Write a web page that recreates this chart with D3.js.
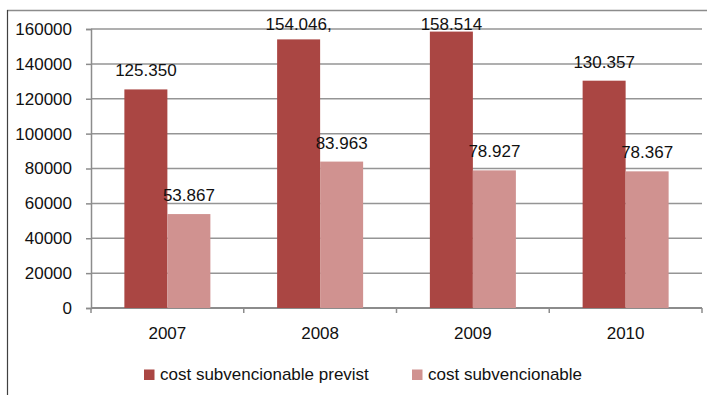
<!DOCTYPE html>
<html>
<head>
<meta charset="utf-8">
<script src="https://cdn.jsdelivr.net/npm/d3@7"></script>
<style>
  html, body { margin: 0; padding: 0; background: #fff; }
  svg { display: block; font-family: "Liberation Sans", Arial, sans-serif; }
</style>
</head>
<body>
<svg id="chart" width="707" height="395"></svg>
<script>
// Years on the category axis
const categories = ["2007", "2008", "2009", "2010"];
// Series values
const seriesNames = ["cost subvencionable previst", "cost subvencionable"];
const previst = [125350, 154046, 158514, 130357];
const subvencionable = [53867, 83963, 78927, 78367];
// Data labels as printed above each bar
const previstLabels = ["125.350", "154.046,", "158.514", "130.357"];
const subvencionableLabels = ["53.867", "83.963", "78.927", "78.367"];
// Value axis ticks
const yTicks = [0, 20000, 40000, 60000, 80000, 100000, 120000, 140000, 160000];

const colors = ["#AA4643", "#D09290"];
const fontSize = 17;

const svg = d3.select("#chart");

// Outer frame (top and left edges visible)
svg.append("line").attr("x1", 7).attr("x2", 707).attr("y1", 10.5).attr("y2", 10.5)
  .attr("stroke", "#8c8c8c").attr("stroke-width", 1.5);
svg.append("line").attr("x1", 7.5).attr("x2", 7.5).attr("y1", 10).attr("y2", 395)
  .attr("stroke", "#404040").attr("stroke-width", 1.2);

const plot = { left: 91, right: 702, top: 29, bottom: 308 };

const x = d3.scaleBand().domain(categories).range([plot.left, plot.right]).padding(0);
const x1 = d3.scaleBand().domain([0, 1]).range([0, x.bandwidth()])
  .paddingInner(0).paddingOuter(0.776);
const y = d3.scaleLinear().domain([0, 160000]).range([plot.bottom, plot.top]);

// Horizontal gridlines
svg.append("g").selectAll("line").data(yTicks.filter(d => d > 0)).join("line")
  .attr("x1", plot.left).attr("x2", plot.right)
  .attr("y1", d => y(d)).attr("y2", d => y(d))
  .attr("stroke", "#959595").attr("stroke-width", 1.5);

// Value axis
const yAxis = svg.append("g").attr("transform", `translate(${plot.left},0)`)
  .call(d3.axisLeft(y).tickValues(yTicks).tickSize(5).tickPadding(14).tickFormat(d3.format("d")));
yAxis.select(".domain").attr("stroke", "#8c8c8c").attr("stroke-width", 1.5);
yAxis.selectAll(".tick line").attr("stroke", "#8c8c8c").attr("stroke-width", 1.5);
yAxis.selectAll(".tick text").attr("fill", "#111").style("font-size", fontSize + "px")
  .style("font-family", "'Liberation Sans', Arial, sans-serif");

// Category axis
const bounds = categories.map(c => x(c)).concat([plot.right]);
svg.append("line").attr("x1", plot.left).attr("x2", plot.right)
  .attr("y1", plot.bottom).attr("y2", plot.bottom)
  .attr("stroke", "#8c8c8c").attr("stroke-width", 2);
svg.append("g").selectAll("line").data(bounds).join("line")
  .attr("x1", d => d).attr("x2", d => d)
  .attr("y1", plot.bottom).attr("y2", plot.bottom + 5)
  .attr("stroke", "#8c8c8c").attr("stroke-width", 1.5);
svg.append("g").selectAll("text").data(categories).join("text")
  .attr("x", d => x(d) + x.bandwidth() / 2).attr("y", 339)
  .attr("text-anchor", "middle").attr("fill", "#111")
  .style("font-size", fontSize + "px").text(d => d);

// Bars and their labels
const series = [
  { values: previst, labels: previstLabels },
  { values: subvencionable, labels: subvencionableLabels }
];
series.forEach((s, si) => {
  const g = svg.append("g");
  g.selectAll("rect").data(s.values).join("rect")
    .attr("x", (d, i) => x(categories[i]) + x1(si))
    .attr("width", x1.bandwidth())
    .attr("y", d => y(d))
    .attr("height", d => plot.bottom - y(d))
    .attr("fill", colors[si]);
  g.selectAll("text").data(s.values).join("text")
    .attr("x", (d, i) => x(categories[i]) + x1(si) + x1.bandwidth() / 2)
    .attr("y", d => Math.max(y(d) - 13, plot.top + 0.5))
    .attr("text-anchor", "middle").attr("fill", "#111")
    .style("font-size", fontSize + "px")
    .text((d, i) => s.labels[i]);
});

// Legend
const legendItems = [
  { name: seriesNames[0], color: colors[0], x: 144 },
  { name: seriesNames[1], color: colors[1], x: 412 }
];
const lg = svg.append("g").selectAll("g").data(legendItems).join("g");
lg.append("rect").attr("x", d => d.x).attr("y", 369.5).attr("width", 10.5).attr("height", 10.5)
  .attr("fill", d => d.color);
lg.append("text").attr("x", d => d.x + 16).attr("y", 379.5).attr("fill", "#111")
  .style("font-size", fontSize + "px").text(d => d.name);
</script>
</body>
</html>
